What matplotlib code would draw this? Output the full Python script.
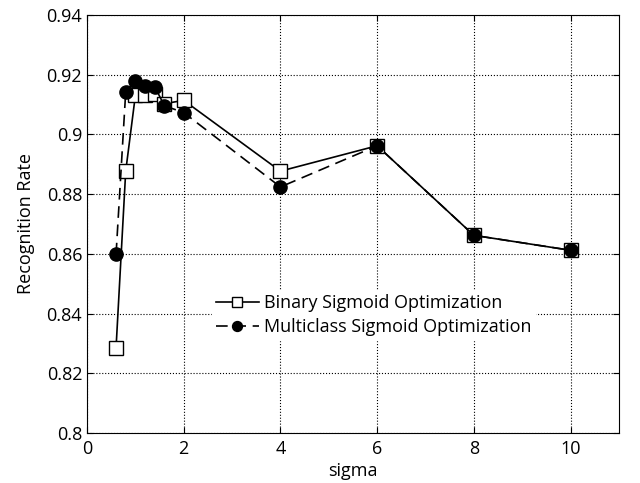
import matplotlib
matplotlib.use('Agg')
import matplotlib.pyplot as plt

plt.rcParams['font.family'] = ['Open Sans', 'DejaVu Sans']

sigma = [0.6, 0.8, 1.0, 1.2, 1.4, 1.6, 2, 4, 6, 8, 10]
binary = [0.8285, 0.8877, 0.9131, 0.9131, 0.9137, 0.9103, 0.9114,
          0.8877, 0.8962, 0.8662, 0.8612]
multiclass = [0.8598, 0.9143, 0.9179, 0.9162, 0.9160, 0.9096, 0.9073,
              0.8824, 0.8962, 0.8662, 0.8612]

xticks = [0, 2, 4, 6, 8, 10]
yticks = [0.8, 0.82, 0.84, 0.86, 0.88, 0.9, 0.92, 0.94]
ytick_labels = ['0.8', '0.82', '0.84', '0.86', '0.88', '0.9', '0.92', '0.94']

fig = plt.figure(figsize=(6.4, 4.83), dpi=100)
ax = fig.add_axes([0.136, 0.1035, 0.831, 0.8655])

ax.plot(sigma, binary, '-', color='black', lw=1.2, marker='s',
        markersize=10, markerfacecolor='white', markeredgecolor='black',
        markeredgewidth=1.0, label='Binary Sigmoid Optimization')
ax.plot(sigma, multiclass, '--', color='black', lw=1.2, marker='o',
        markersize=9.5, markerfacecolor='black', markeredgecolor='black',
        dashes=(7, 4), label='Multiclass Sigmoid Optimization')

ax.set_xlim(0, 11)
ax.set_ylim(0.8, 0.94)
ax.set_xticks(xticks)
ax.set_yticks(yticks)
ax.set_yticklabels(ytick_labels)
ax.tick_params(direction='in', labelsize=13, length=4, top=True, right=True)
ax.tick_params(axis='x', pad=5)
ax.grid(True, linestyle=':', color='black', linewidth=0.8)

ax.set_xlabel('sigma', fontsize=13, labelpad=3)
ax.set_ylabel('Recognition Rate', fontsize=13, labelpad=8)

leg = ax.legend(loc='upper left', bbox_to_anchor=(0.235, 0.34), frameon=True,
                fontsize=13, handlelength=2.4, handletextpad=0.3,
                borderpad=0.2, labelspacing=0.3, borderaxespad=0,
                markerscale=0.75)
leg.get_frame().set_edgecolor('white')
leg.get_frame().set_alpha(1.0)
leg.get_frame().set_boxstyle('square', pad=0)

plt.savefig('out.png', dpi=100)
